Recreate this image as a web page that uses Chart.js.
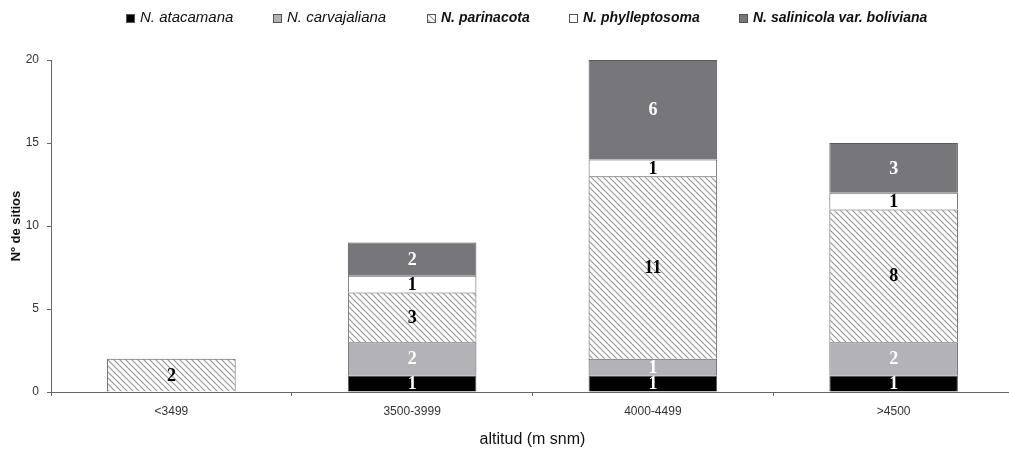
<!DOCTYPE html>
<html>
<head>
<meta charset="utf-8">
<script src="https://cdn.jsdelivr.net/npm/chart.js@4.4.0/dist/chart.umd.min.js"></script>
<style>
  html, body { margin: 0; padding: 0; background: #fff; overflow: hidden; }
  #wrap { width: 1009px; height: 452px; overflow: hidden; }
</style>
</head>
<body>
<div id="wrap"><canvas id="chart" width="1016" height="452"></canvas></div>
<script>
const categories = ['<3499', '3500-3999', '4000-4499', '>4500'];
const atacamana = [0, 1, 1, 1];
const carvajaliana = [0, 2, 1, 2];
const parinacota = [2, 3, 11, 8];
const phylleptosoma = [0, 1, 1, 1];
const salinicola = [0, 2, 6, 3];
const yTicks = [0, 5, 10, 15, 20];

// diagonal hatch for N. parinacota
function hatch() {
    const c = document.createElement('canvas');
    c.width = 6; c.height = 6;
    const g = c.getContext('2d');
    g.fillStyle = '#fff';
    g.fillRect(0, 0, 6, 6);
    g.strokeStyle = '#999';
    g.lineWidth = 1.2;
    g.beginPath();
    g.moveTo(0, 0); g.lineTo(6, 6);
    g.moveTo(-3, 3); g.lineTo(3, 9);
    g.moveTo(3, -3); g.lineTo(9, 3);
    g.stroke();
    return g.createPattern(c, 'repeat');
}

const ctx = document.getElementById('chart');
const pattern = hatch();

const legendX = [126, 273, 427, 569, 739];
const legendFont = ['italic 15px', 'italic 15px', 'italic bold 14px', 'italic bold 14px', 'italic bold 14px'];

const barLabels = {
    id: 'barLabels',
    afterDatasetsDraw(chart) {
        const c = chart.ctx;
        c.save();
        c.font = 'bold 18px "Liberation Serif", "Times New Roman", serif';
        c.textAlign = 'center';
        c.textBaseline = 'middle';
        chart.data.datasets.forEach((ds, i) => {
            const meta = chart.getDatasetMeta(i);
            meta.data.forEach((bar, j) => {
                const v = ds.data[j];
                if (!v) return;
                const { x, y, base } = bar.getProps(['x', 'y', 'base'], true);
                c.fillStyle = ds.labelColor;
                c.fillText(String(v), x, (y + base) / 2 + 1);
            });
        });
        c.restore();
    }
};

const topLegend = {
    id: 'topLegend',
    afterDraw(chart) {
        const c = chart.ctx;
        c.save();
        c.textBaseline = 'middle';
        c.textAlign = 'left';
        chart.data.datasets.forEach((ds, i) => {
            const x = legendX[i];
            c.fillStyle = ds.backgroundColor;
            c.fillRect(x, 14, 8, 8);
            c.strokeStyle = '#555';
            c.lineWidth = 1;
            c.strokeRect(x + 0.5, 14.5, 8, 8);
            c.fillStyle = '#111';
            c.font = legendFont[i] + ' "Liberation Sans", Arial, sans-serif';
            c.fillText(ds.label, x + 14, 18);
        });
        c.restore();
    }
};

new Chart(ctx, {
    type: 'bar',
    data: {
        labels: categories,
        datasets: [
            { label: 'N. atacamana', data: atacamana, backgroundColor: '#000000', labelColor: '#fff' },
            { label: 'N. carvajaliana', data: carvajaliana, backgroundColor: '#b3b3b7', labelColor: '#fff' },
            { label: 'N. parinacota', data: parinacota, backgroundColor: pattern, labelColor: '#000' },
            { label: 'N. phylleptosoma', data: phylleptosoma, backgroundColor: '#ffffff', labelColor: '#000' },
            { label: 'N. salinicola var. boliviana', data: salinicola, backgroundColor: '#77777b', labelColor: '#fff' }
        ].map(d => Object.assign(d, {
            borderColor: '#5a5a5a',
            borderWidth: 1,
            barPercentage: 1,
            categoryPercentage: 0.534
        }))
    },
    options: {
        responsive: false,
        animation: false,
        layout: { padding: { top: 60, right: 2, left: 0, bottom: 0 } },
        plugins: {
            legend: { display: false },
            tooltip: { enabled: false }
        },
        scales: {
            x: {
                stacked: true,
                afterFit(s) { s.height = 60; },
                grid: { drawOnChartArea: false, tickLength: 4, color: '#666' },
                border: { color: '#666', width: 1 },
                ticks: {
                    color: '#333',
                    padding: 8,
                    font: { family: '"Liberation Sans", Arial, sans-serif', size: 12 }
                },
                title: {
                    display: true,
                    text: 'altitud (m snm)',
                    color: '#111',
                    padding: { top: 0, bottom: 3 },
                    font: { family: '"Liberation Sans", Arial, sans-serif', size: 16 }
                }
            },
            y: {
                stacked: true,
                min: 0,
                max: 20,
                afterFit(s) { s.width = 51; },
                afterBuildTicks(s) { s.ticks = yTicks.map(v => ({ value: v })); },
                grid: { drawOnChartArea: false, tickLength: 4, color: '#666' },
                border: { color: '#666', width: 1 },
                ticks: {
                    color: '#333',
                    padding: 8,
                    font: { family: '"Liberation Sans", Arial, sans-serif', size: 12 }
                },
                title: {
                    display: true,
                    text: 'Nº de sitios',
                    color: '#111',
                    padding: { top: 9, bottom: 0 },
                    font: { family: '"Liberation Sans", Arial, sans-serif', size: 13, weight: 'bold' }
                }
            }
        }
    },
    plugins: [barLabels, topLegend]
});
</script>
</body>
</html>
